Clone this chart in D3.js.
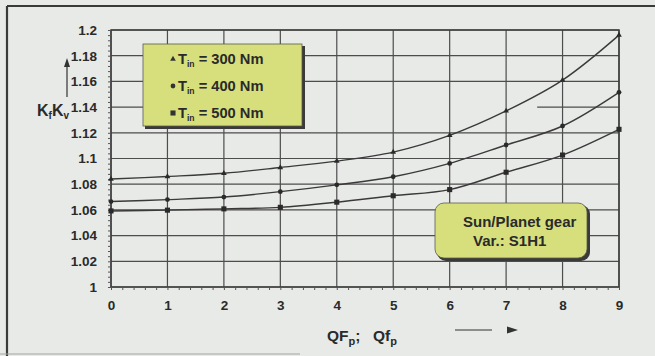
<!DOCTYPE html>
<html>
<head>
<meta charset="utf-8">
<script src="https://cdn.jsdelivr.net/npm/d3@7/dist/d3.min.js"></script>
<style>
  html, body { margin: 0; padding: 0; background: #e8eae7; }
  svg { display: block; }
  text { font-family: "Liberation Sans", Arial, sans-serif; font-weight: bold; fill: #2a2a2a; }
</style>
</head>
<body>
<svg id="chart" width="655" height="356"></svg>
<script>
// Quality grade of the gear (QF_p / Qf_p)
const quality = [0, 1, 2, 3, 4, 5, 6, 7, 8, 9];
// K_f·K_v for three input torques
const t300 = [1.084, 1.086, 1.0885, 1.093, 1.098, 1.105, 1.118, 1.137, 1.161, 1.196];
const t400 = [1.0665, 1.068, 1.070, 1.0742, 1.0795, 1.0858, 1.0962, 1.1105, 1.1253, 1.1515];
const t500 = [1.0592, 1.0598, 1.0608, 1.062, 1.066, 1.071, 1.0758, 1.0893, 1.1027, 1.1227];
const seriesNames = ["300 Nm", "400 Nm", "500 Nm"];
const yTicks = [1, 1.02, 1.04, 1.06, 1.08, 1.1, 1.12, 1.14, 1.16, 1.18, 1.2];

const svg = d3.select("#chart");
const x = d3.scaleLinear().domain([0, 9]).range([111, 619]);
const y = d3.scaleLinear().domain([1, 1.2]).range([287, 30]);

// outer frame (top and left edges)
svg.append("line").attr("x1", 7).attr("x2", 655).attr("y1", 6).attr("y2", 6)
  .attr("stroke", "#3a3a3a").attr("stroke-width", 2.2);
svg.append("line").attr("x1", 7).attr("x2", 7).attr("y1", 6).attr("y2", 356)
  .attr("stroke", "#3a3a3a").attr("stroke-width", 2.2);
svg.append("line").attr("x1", 0).attr("x2", 300).attr("y1", 354).attr("y2", 354)
  .attr("stroke", "#a3a5a2").attr("stroke-width", 1);

const grid = svg.append("g").attr("stroke", "#4d4d4d").attr("stroke-width", 1.2);
// horizontal grid lines; the 1.14 line only runs at the two ends
yTicks.forEach(v => {
  const segs = (v === 1.14) ? [[0, 3.3], [7.55, 9]] : [[0, 9]];
  segs.forEach(s => grid.append("line")
    .attr("x1", x(s[0])).attr("x2", x(s[1]))
    .attr("y1", y(v)).attr("y2", y(v)));
});
// vertical grid lines
quality.forEach(q => grid.append("line")
  .attr("x1", x(q)).attr("x2", x(q)).attr("y1", y(1)).attr("y2", y(1.2)));

// plot frame
svg.append("rect").attr("x", x(0)).attr("y", y(1.2))
  .attr("width", x(9) - x(0)).attr("height", y(1) - y(1.2))
  .attr("fill", "none").attr("stroke", "#3d3d3d").attr("stroke-width", 1.5);

// minor ticks on both axes
const yMinor = d3.range(0, 51).map(i => 1 + i * 0.004);
svg.append("g").attr("transform", `translate(${x(0)},0)`)
  .call(d3.axisLeft(y).tickValues(yMinor).tickSize(3).tickFormat(""))
  .call(g => g.select(".domain").remove())
  .selectAll("line").attr("stroke", "#555");
const xMinor = d3.range(0, 46).map(i => i * 0.2);
svg.append("g").attr("transform", `translate(0,${y(1)})`)
  .call(d3.axisBottom(x).tickValues(xMinor).tickSize(3).tickFormat(""))
  .call(g => g.select(".domain").remove())
  .selectAll("line").attr("stroke", "#555");

// tick labels
svg.append("g").attr("transform", `translate(${x(0) - 11},0)`)
  .call(d3.axisLeft(y).tickValues(yTicks).tickSize(0).tickFormat(d3.format("~g")))
  .call(g => g.select(".domain").remove())
  .selectAll("text").attr("font-size", 13.5).attr("font-family", "Liberation Sans, Arial, sans-serif")
  .attr("font-weight", "bold").attr("fill", "#333");
svg.append("g").attr("transform", `translate(0,${y(1) + 10})`)
  .call(d3.axisBottom(x).tickValues(quality).tickSize(0).tickFormat(d3.format("d")))
  .call(g => g.select(".domain").remove())
  .selectAll("text").attr("font-size", 13.5).attr("font-family", "Liberation Sans, Arial, sans-serif")
  .attr("font-weight", "bold").attr("fill", "#333");

// curves
const line = d3.line().x((d, i) => x(quality[i])).y(d => y(d)).curve(d3.curveCatmullRom.alpha(0.5));
[t300, t400, t500].forEach(s => svg.append("path").attr("d", line(s))
  .attr("fill", "none").attr("stroke", "#3a3a3a").attr("stroke-width", 1.4));

const sym = [d3.symbol().type(d3.symbolTriangle).size(14),
             d3.symbol().type(d3.symbolCircle).size(18),
             d3.symbol().type(d3.symbolSquare).size(26)];
[t300, t400, t500].forEach((s, k) => svg.append("g").selectAll("path").data(s).join("path")
  .attr("d", sym[k]).attr("transform", (d, i) => `translate(${x(quality[i])},${y(d)})`)
  .attr("fill", "#2a2a2a"));

// axis titles and arrows
const yt = svg.append("text").attr("x", 37).attr("y", 116).attr("font-size", 16);
yt.append("tspan").text("K");
yt.append("tspan").text("f").attr("font-size", 10).attr("dy", 3);
yt.append("tspan").text("K").attr("dy", -3);
yt.append("tspan").text("v").attr("font-size", 10).attr("dy", 3);
svg.append("line").attr("x1", 67).attr("x2", 67).attr("y1", 97).attr("y2", 66)
  .attr("stroke", "#333").attr("stroke-width", 1.2);
svg.append("path").attr("d", "M67,58 L64,67 L70,67 Z").attr("fill", "#333");

const xt = svg.append("text").attr("x", 327).attr("y", 341).attr("font-size", 15.5);
xt.append("tspan").text("QF");
xt.append("tspan").text("p").attr("font-size", 11).attr("dy", 4);
xt.append("tspan").text(";").attr("dy", -4);
xt.append("tspan").text("Qf").attr("x", 373);
xt.append("tspan").text("p").attr("font-size", 11).attr("dy", 4);
svg.append("line").attr("x1", 455).attr("x2", 492).attr("y1", 330).attr("y2", 330)
  .attr("stroke", "#333").attr("stroke-width", 1.2);
svg.append("path").attr("d", "M518,330 L507,326.5 L507,333.5 Z").attr("fill", "#333");

// legend box
const lg = svg.append("g");
lg.append("rect").attr("x", 145).attr("y", 46).attr("width", 160).attr("height", 83).attr("fill", "#3a3a3a");
lg.append("rect").attr("x", 143).attr("y", 44).attr("width", 159).attr("height", 82)
  .attr("fill", "#d6df7c").attr("stroke", "#5a5a4a").attr("stroke-width", 0.8);
seriesNames.forEach((n, k) => {
  const cy = 59 + k * 27;
  lg.append("path").attr("d", sym[k]).attr("transform", `translate(173,${cy})`).attr("fill", "#333");
  const t = lg.append("text").attr("x", 178).attr("y", cy + 5).attr("font-size", 14.7);
  t.append("tspan").text("T");
  t.append("tspan").text("in").attr("font-size", 8.5).attr("dy", 3);
  t.append("tspan").text(" = " + n).attr("dy", -3);
});

// variant box
const vb = svg.append("g");
vb.append("rect").attr("x", 437).attr("y", 205).attr("width", 153).attr("height", 56).attr("rx", 9).attr("fill", "#3a3a3a");
vb.append("rect").attr("x", 435).attr("y", 203).attr("width", 152).attr("height", 55).attr("rx", 9)
  .attr("fill", "#d6df7c").attr("stroke", "#5a5a4a").attr("stroke-width", 0.8);
vb.append("text").attr("x", 463).attr("y", 227).attr("font-size", 15).text("Sun/Planet gear");
vb.append("text").attr("x", 473).attr("y", 246).attr("font-size", 15).text("Var.: S1H1");
</script>
</body>
</html>
